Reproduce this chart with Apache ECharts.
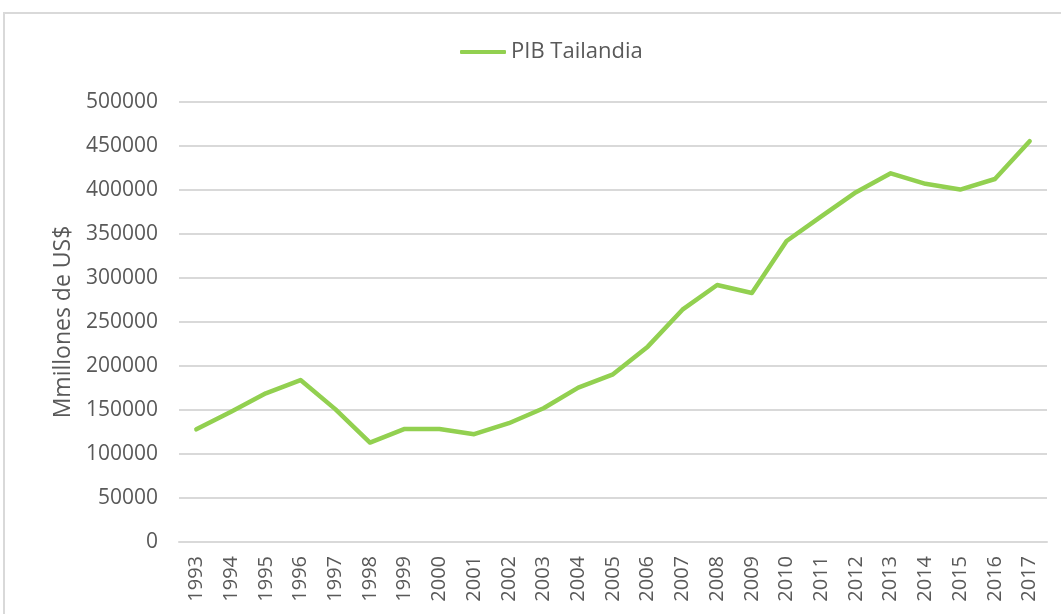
<!DOCTYPE html>
<html>
<head>
<meta charset="utf-8">
<script src="https://cdn.jsdelivr.net/npm/echarts@6/dist/echarts.min.js"></script>
<style>
  html, body { margin: 0; padding: 0; background: #fff; }
  #chart { width: 1061px; height: 614px; }
</style>
</head>
<body>
<div id="chart"></div>
<script>
// años y PIB (millones de US$)
var years = ['1993', '1994', '1995', '1996', '1997', '1998', '1999', '2000', '2001',
  '2002', '2003', '2004', '2005', '2006', '2007', '2008', '2009', '2010', '2011',
  '2012', '2013', '2014', '2015', '2016', '2017'];
var pib = [128000, 148000, 169000, 184000, 151000, 113000, 128500, 128500, 122500,
  135000, 152000, 175500, 190500, 222000, 264000, 292000, 283000, 342000, 370000,
  397500, 419000, 407000, 400500, 412500, 455500];

var textColor = '#595959';
var font = 'Open Sans';

var chart = echarts.init(document.getElementById('chart'));
var option = {
  backgroundColor: '#ffffff',
  animation: false,
  graphic: [{
    type: 'rect',
    shape: { x: 4, y: 13, width: 1080, height: 640 },
    style: { fill: 'none', stroke: '#d9d9d9', lineWidth: 2 },
    silent: true
  }],
  legend: {
    top: 36,
    left: 455,
    itemWidth: 46,
    itemHeight: 4,
    itemGap: 10,
    icon: 'roundRect',
    textStyle: { color: textColor, fontSize: 22, fontFamily: font },
    data: ['PIB Tailandia']
  },
  grid: {
    left: 179,
    right: 14,
    top: 102,
    bottom: 72
  },
  xAxis: {
    type: 'category',
    data: years,
    boundaryGap: true,
    axisLine: { show: true, lineStyle: { color: '#d9d9d9', width: 2 } },
    axisTick: { show: false },
    axisLabel: {
      rotate: 90,
      margin: 14,
      color: textColor,
      fontSize: 20,
      fontFamily: font,
      interval: 0
    }
  },
  yAxis: {
    type: 'value',
    min: 0,
    max: 500000,
    interval: 50000,
    name: 'Mmillones de US$',
    nameLocation: 'middle',
    nameGap: 104,
    nameTextStyle: { color: textColor, fontSize: 23, fontFamily: font },
    axisLine: { show: false },
    axisTick: { show: false },
    axisLabel: {
      margin: 21,
      color: textColor,
      fontSize: 21,
      fontFamily: font,
      formatter: function (v) { return String(v); }
    },
    splitLine: { lineStyle: { color: '#d9d9d9', width: 2 } }
  },
  series: [{
    name: 'PIB Tailandia',
    type: 'line',
    data: pib,
    symbol: 'none',
    lineStyle: { color: '#92d050', width: 4.5, cap: 'round', join: 'round' },
    itemStyle: { color: '#92d050' }
  }]
};
chart.setOption(option);
</script>
</body>
</html>
